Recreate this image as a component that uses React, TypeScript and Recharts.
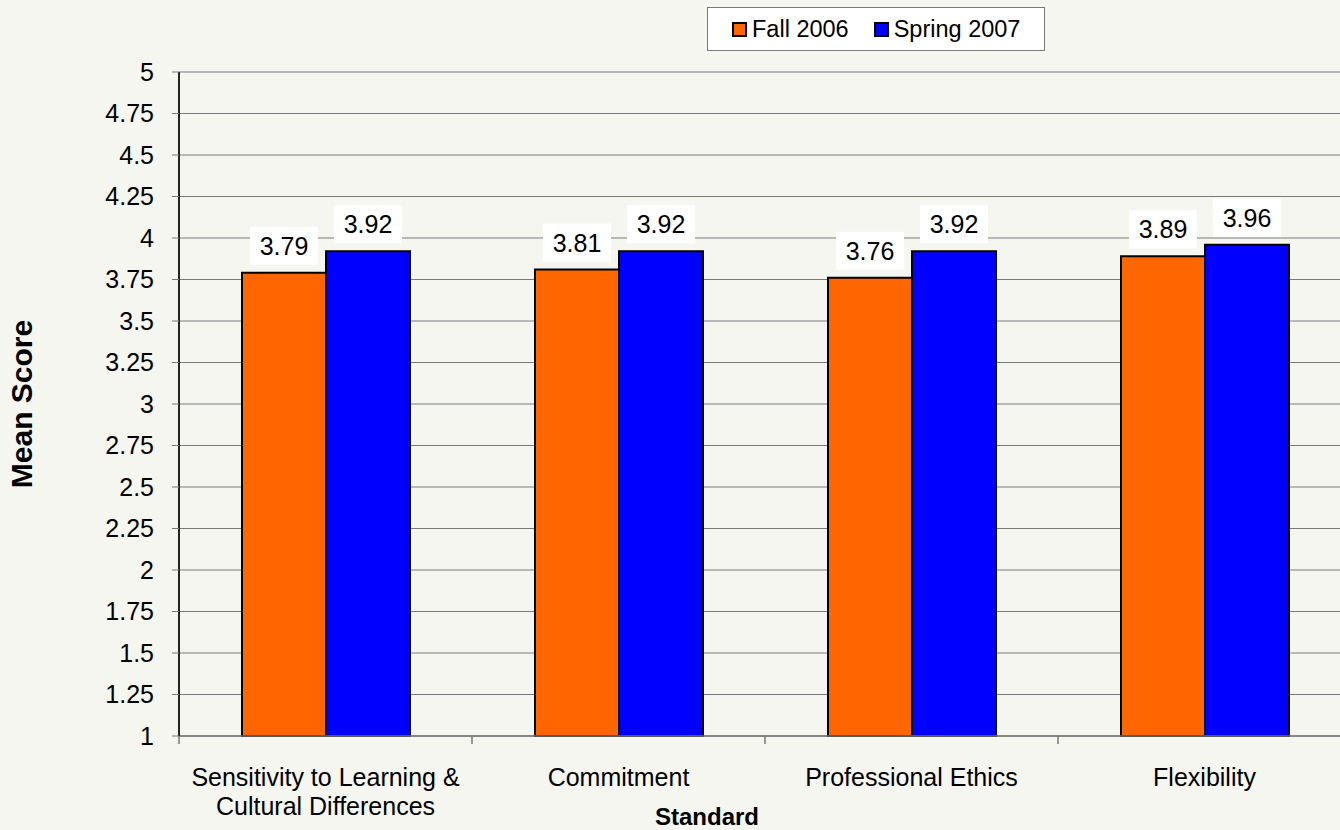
import React from "react";
import {
  BarChart,
  Bar,
  XAxis,
  YAxis,
  CartesianGrid,
  Legend,
  LabelList,
  Label,
} from "recharts";

// "\n" marks where the long category name wraps in the original
const categories = [
  "Sensitivity to Learning &\nCultural Differences",
  "Commitment",
  "Professional Ethics",
  "Flexibility",
];
const fall2006 = [3.79, 3.81, 3.76, 3.89];
const spring2007 = [3.92, 3.92, 3.92, 3.96];
const yTicks = [1, 1.25, 1.5, 1.75, 2, 2.25, 2.5, 2.75, 3, 3.25, 3.5, 3.75, 4, 4.25, 4.5, 4.75, 5];
const seriesNames = ["Fall 2006", "Spring 2007"];
const seriesColors = ["#FF6600", "#0000FF"];

const data = categories.map((name, i) => ({
  name,
  fall: fall2006[i],
  spring: spring2007[i],
}));

const FONT = "'Liberation Sans', Arial, sans-serif";
const CHART_W = 1360;
const MARGIN = { top: 72, right: 9, bottom: 0, left: 0 };
const Y_AXIS_W = 179;
const PLOT_W = CHART_W - MARGIN.left - MARGIN.right - Y_AXIS_W;
const BAND = PLOT_W / categories.length;

function CategoryTick(props: any) {
  const { x, y, payload } = props;
  const lines = String(payload.value).split("\n");
  return (
    <g>
      <line x1={x - BAND / 2} x2={x - BAND / 2} y1={y} y2={y + 8} stroke="#777" strokeWidth={1.5} />
      <text x={x} y={y + 50} textAnchor="middle" fontSize={25} fontFamily={FONT} fill="#000">
        {lines.map((l, i) => (
          <tspan key={i} x={x} dy={i === 0 ? 0 : 29}>
            {l}
          </tspan>
        ))}
      </text>
    </g>
  );
}

function BoxLabel(props: any) {
  const { x, y, width, value } = props;
  const cx = Number(x) + Number(width) / 2;
  const top = Number(y) - 8 - 38;
  return (
    <g>
      <rect x={cx - 34} y={top} width={68} height={38} fill="#fff" />
      <text x={cx} y={top + 28} textAnchor="middle" fontSize={25} fontFamily={FONT} fill="#000">
        {value}
      </text>
    </g>
  );
}

function LegendBox() {
  return (
    <div
      style={{
        boxSizing: "border-box",
        width: 338,
        height: 44,
        background: "#fff",
        border: "1.5px solid #7a7a7a",
        display: "flex",
        alignItems: "center",
        paddingLeft: 24,
        fontFamily: FONT,
        fontSize: 23.5,
        color: "#000",
      }}
    >
      {seriesNames.map((n, i) => (
        <div key={n} style={{ display: "flex", alignItems: "center", marginRight: i === 0 ? 25 : 0 }}>
          <span
            style={{
              display: "inline-block",
              boxSizing: "border-box",
              width: 15,
              height: 15,
              background: seriesColors[i],
              border: "2px solid #000",
              marginRight: 5,
            }}
          />
          <span>{n}</span>
        </div>
      ))}
    </div>
  );
}

export default function App() {
  return (
    <div
      style={{
        position: "absolute",
        left: 0,
        top: 0,
        width: 1340,
        height: 830,
        overflow: "hidden",
        background: "#f6f6f1",
      }}
    >
      <BarChart
        width={CHART_W}
        height={830}
        data={data}
        margin={MARGIN}
        barCategoryGap={63}
        barGap={0}
      >
        <CartesianGrid horizontal vertical={false} stroke="#7a7a7a" strokeWidth={1} />
        <XAxis
          dataKey="name"
          height={94}
          interval={0}
          tickLine={false}
          tickSize={0}
          tickMargin={0}
          axisLine={{ stroke: "#777", strokeWidth: 1.5 }}
          tick={<CategoryTick />}
        >
          <Label
            content={(p: any) => {
              const vb = p.viewBox;
              return (
                <text
                  x={vb.x + vb.width / 2 - 58}
                  y={825}
                  textAnchor="middle"
                  fontSize={24}
                  fontWeight="bold"
                  fontFamily={FONT}
                  fill="#000"
                >
                  Standard
                </text>
              );
            }}
          />
        </XAxis>
        <YAxis
          type="number"
          domain={[1, 5]}
          ticks={yTicks}
          interval={0}
          width={Y_AXIS_W}
          tickSize={7}
          tickMargin={18}
          tickLine={{ stroke: "#777" }}
          axisLine={{ stroke: "#222", strokeWidth: 2 }}
          tick={{ fontSize: 25, fontFamily: FONT, fill: "#000" }}
        >
          <Label
            content={(p: any) => {
              const vb = p.viewBox;
              const cy = vb.y + vb.height / 2;
              return (
                <text
                  x={32}
                  y={cy}
                  transform={`rotate(-90 32 ${cy})`}
                  textAnchor="middle"
                  fontSize={30}
                  fontWeight="bold"
                  fontFamily={FONT}
                  fill="#000"
                >
                  Mean Score
                </text>
              );
            }}
          />
        </YAxis>
        <Legend
          layout="horizontal"
          verticalAlign="middle"
          align="center"
          wrapperStyle={{ position: "absolute", left: 707, top: 7, width: 338, height: 44 }}
          content={() => <LegendBox />}
        />
        <Bar dataKey="fall" name={seriesNames[0]} fill={seriesColors[0]} stroke="#000" strokeWidth={2} isAnimationActive={false}>
          <LabelList dataKey="fall" content={<BoxLabel />} />
        </Bar>
        <Bar dataKey="spring" name={seriesNames[1]} fill={seriesColors[1]} stroke="#000" strokeWidth={2} isAnimationActive={false}>
          <LabelList dataKey="spring" content={<BoxLabel />} />
        </Bar>
      </BarChart>
    </div>
  );
}
